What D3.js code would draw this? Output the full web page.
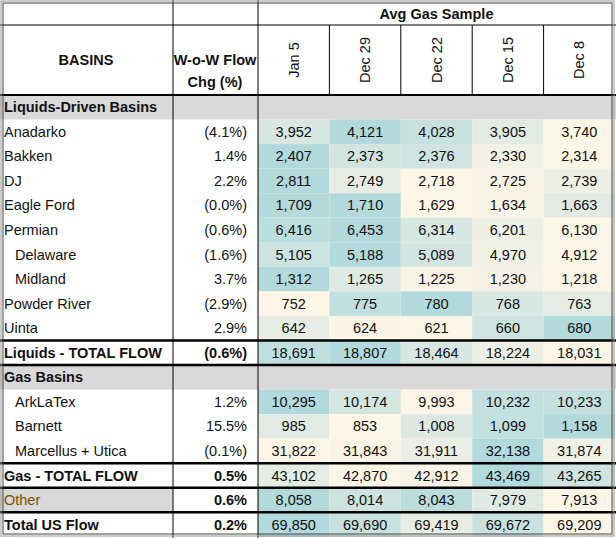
<!DOCTYPE html>
<html><head><meta charset="utf-8">
<script src="https://cdn.jsdelivr.net/npm/d3@7"></script>
<style>body{margin:0;background:#fff}text{font-family:"Liberation Sans Narrow","Arial Narrow","Liberation Sans",sans-serif;font-size:14.5px;fill:#111}</style>
</head><body><svg id="c" width="616" height="538"></svg>
<script>
const dates = ["Jan 5","Dec 29","Dec 22","Dec 15","Dec 8"];
const basins = ["Liquids-Driven Basins","Anadarko","Bakken","DJ","Eagle Ford","Permian","Delaware","Midland","Powder River","Uinta","Liquids - TOTAL FLOW","Gas Basins","ArkLaTex","Barnett","Marcellus + Utica","Gas - TOTAL FLOW","Other","Total US Flow"];
const rowType = ["section","item","item","item","item","item","sub","sub","item","item","total","section","sub","sub","sub","total","other","total"];
const chg = [null,"(4.1%)","1.4%","2.2%","(0.0%)","(0.6%)","(1.6%)","3.7%","(2.9%)","2.9%","(0.6%)",null,"1.2%","15.5%","(0.1%)","0.5%","0.6%","0.2%"];
const values = [null,
 [3952,4121,4028,3905,3740],[2407,2373,2376,2330,2314],[2811,2749,2718,2725,2739],
 [1709,1710,1629,1634,1663],[6416,6453,6314,6201,6130],[5105,5188,5089,4970,4912],
 [1312,1265,1225,1230,1218],[752,775,780,768,763],[642,624,621,660,680],
 [18691,18807,18464,18224,18031],null,
 [10295,10174,9993,10232,10233],[985,853,1008,1099,1158],[31822,31843,31911,32138,31874],
 [43102,42870,42912,43469,43265],[8058,8014,8043,7979,7913],[69850,69690,69419,69672,69209]];

const svg=d3.select("#c");
const W=616,H=538,top0=95,rh=24.55;
const x=d3.scaleBand().domain(dates).range([258,615]);
const y=d3.scaleBand().domain(d3.range(basins.length)).range([top0,top0+rh*basins.length]);
const fmt=d3.format(",");
const gray="#d9d9d9";

svg.append("text").attr("x",(258+615)/2).attr("y",19).attr("text-anchor","middle").style("font-weight","bold").text("Avg Gas Sample");
svg.append("text").attr("x",86).attr("y",65).attr("text-anchor","middle").style("font-weight","bold").text("BASINS");
svg.append("text").attr("x",215).attr("y",65).attr("text-anchor","middle").style("font-weight","bold").text("W-o-W Flow");
svg.append("text").attr("x",215).attr("y",87).attr("text-anchor","middle").style("font-weight","bold").text("Chg (%)");
dates.forEach(d=>{const cx=x(d)+x.bandwidth()/2+5;
 svg.append("text").attr("transform",`translate(${cx},60) rotate(-90)`).attr("text-anchor","middle").text(d);});

basins.forEach((b,i)=>{
 const t=rowType[i], y0=y(i), h=y.bandwidth();
 if(t==="section") svg.append("rect").attr("x",0).attr("y",y0).attr("width",W).attr("height",h).attr("fill",gray);
 if(t==="other") svg.append("rect").attr("x",0).attr("y",y0).attr("width",173).attr("height",h).attr("fill",gray);
 const v=values[i];
 if(v){
  const ext=d3.extent(v);
  const col=d3.scaleLinear().domain([ext[0],(ext[0]+ext[1])/2,ext[1]]).range(["#fdf5e6","#dde9e2","#b2d9db"]);
  dates.forEach((d,j)=>{
   svg.append("rect").attr("x",x(d)).attr("y",y0).attr("width",x.bandwidth()).attr("height",h).attr("fill",col(v[j]));
   svg.append("text").attr("x",x(d)+x.bandwidth()/2).attr("y",y0+h/2+5).attr("text-anchor","middle").text(fmt(v[j]));
  });
 }
 const bold=(t==="section"||t==="total"||t==="other");
 svg.append("text").attr("x",t==="sub"?15:4).attr("y",y0+h/2+5)
  .style("font-weight",(t==="section"||t==="total")?"bold":"normal")
  .style("fill",t==="other"?"#7a5200":"#111").text(b);
 if(chg[i]) svg.append("text").attr("x",247).attr("y",y0+h/2+5).attr("text-anchor","end")
  .style("font-weight",bold?"bold":"normal").text(chg[i]);
});

const L=(x1,y1,x2,y2,w,c)=>svg.append("line").attr("x1",x1).attr("y1",y1).attr("x2",x2).attr("y2",y2).attr("stroke",c||"#000").attr("stroke-width",w||1);
L(0,25,W,25,1);
L(0,top0,W,top0,2);
[173,258].forEach(xx=>L(xx,0,xx,H,1));
dates.slice(1).forEach(d=>L(x(d),25,x(d),top0,1));
[10,11,15,16,17].forEach(i=>L(0,y(i),W,y(i),2.5));
svg.append("rect").attr("x",1).attr("y",1).attr("width",W-3).attr("height",H-3).attr("fill","none").attr("stroke","#999").attr("stroke-width",1);
svg.append("rect").attr("x",3).attr("y",3).attr("width",W-7).attr("height",H-7).attr("fill","none").attr("stroke","#444").attr("stroke-width",1);
</script></body></html>
